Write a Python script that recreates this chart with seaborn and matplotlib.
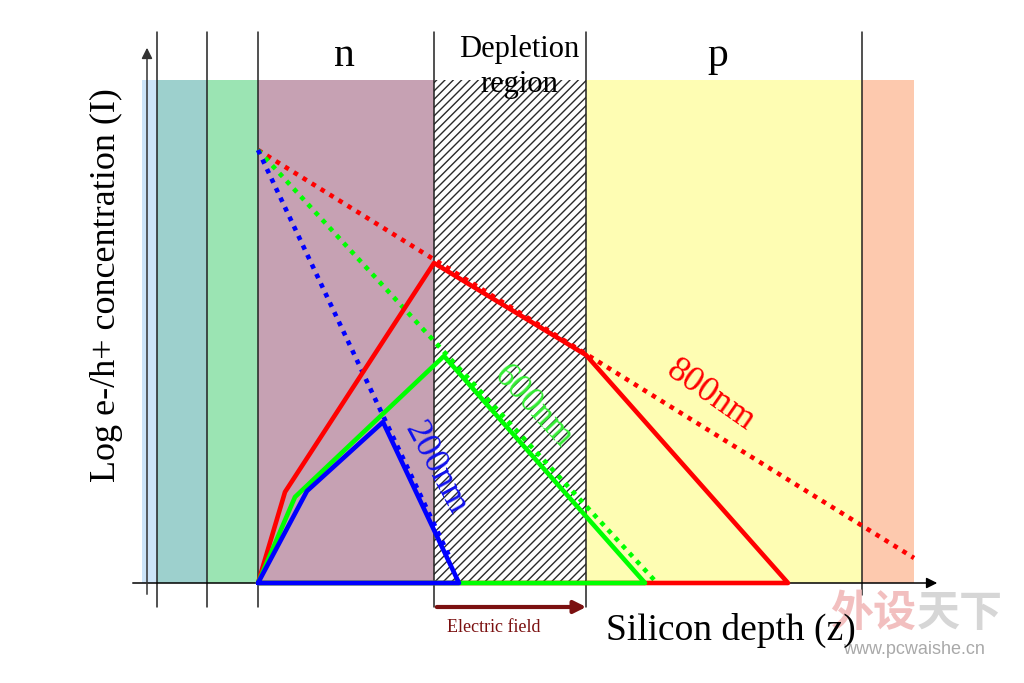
import matplotlib
matplotlib.use("Agg")
import matplotlib.pyplot as plt
import seaborn as sns
import pandas as pd

# ---------------- data (depth units along x, log-concentration units along y) ----------------
layer_edges = [142, 157, 207, 258, 434, 586, 862, 914]
layer_names = ["cap", "oxide", "buffer", "n", "Depletion region", "p", "substrate"]
layer_top = 503
boundary_x = [157, 207, 258, 434, 586, 862]

wavelengths = ["800nm", "600nm", "200nm"]
# solid (collected) profiles
solid_x = {
    "800nm": [258, 285, 434, 586, 788, 258],
    "600nm": [258, 295, 444, 645, 258],
    "200nm": [258, 307, 383, 459, 258],
}
solid_y = {
    "800nm": [0, 91, 320, 228, 0, 0],
    "600nm": [0, 86, 227, 0, 0],
    "200nm": [0, 92, 161, 0, 0],
}
# dotted (generated, exponential absorption) profiles
dotted_x = {"800nm": [258, 914], "600nm": [258, 657], "200nm": [258, 450]}
dotted_y = {"800nm": [433, 25], "600nm": [433, 0], "200nm": [433, 25]}

region_labels = ["n", "Depletion", "region", "p"]
x_label = "Silicon depth (z)"
y_label = "Log e-/h+ concentration (I)"
field_label = "Electric field"

# ---------------- style ----------------
sns.set_theme(style="white")
plt.rcParams["font.family"] = ["Liberation Serif", "DejaVu Serif"]
plt.rcParams["text.color"] = "black"
plt.rcParams["hatch.linewidth"] = 1.0

layer_colors = ["#cce4f8", "#9dd0cd", "#9be4b3", "#c6a1b3", "#ffffff", "#fefdb3", "#fdc9ae"]
line_colors = {"800nm": "#ff0000", "600nm": "#00ff00", "200nm": "#0000ff"}
label_colors = {"800nm": "#ff0000", "600nm": "#33ee33", "200nm": "#1111ee"}

fig = plt.figure(figsize=(10.24, 6.83), dpi=100)
ax = fig.add_axes([0, 0, 1, 1])

# layers
for i, name in enumerate(layer_names):
    x0, x1 = layer_edges[i], layer_edges[i + 1]
    if name == "Depletion region":
        ax.fill_between([x0, x1], 0, layer_top, facecolor="white", edgecolor="#2a2a2a",
                        hatch="////", linewidth=0, zorder=1)
    else:
        ax.fill_between([x0, x1], 0, layer_top, color=layer_colors[i], linewidth=0, zorder=1)

# boundaries
for bx in boundary_x:
    bottom = -12 if bx == 862 else -24
    ax.plot([bx, bx], [551, bottom], color="#222222", lw=1.1, zorder=2)

# axes arrows
ax.annotate("", xy=(940, 0), xytext=(130, 0),
            arrowprops=dict(arrowstyle="-|>", color="black", lw=1.1, mutation_scale=16), zorder=2)
ax.annotate("", xy=(147, 538), xytext=(147, -14),
            arrowprops=dict(arrowstyle="-|>", color="#333333", lw=1.1, mutation_scale=16), zorder=2)

# dotted profiles
for w in wavelengths:
    df = pd.DataFrame({"x": dotted_x[w], "y": dotted_y[w]})
    sns.lineplot(data=df, x="x", y="y", sort=False, estimator=None, ax=ax,
                 color=line_colors[w], linewidth=3.3, linestyle=(0, (1, 1.3)), zorder=3)

# solid profiles
for w in wavelengths:
    df = pd.DataFrame({"x": solid_x[w], "y": solid_y[w]})
    sns.lineplot(data=df, x="x", y="y", sort=False, estimator=None, ax=ax,
                 color=line_colors[w], linewidth=3.3, zorder=4)
ax.set_xlim(0, 1024)
ax.set_ylim(-100, 583)
ax.axis("off")

# electric field arrow
ax.annotate("", xy=(589, -24), xytext=(434, -24),
            arrowprops=dict(arrowstyle="-|>", color="#7b1010", lw=3, mutation_scale=18), zorder=5)
ax.text(494, -45, field_label, color="#7b1010", fontsize=13, ha="center", va="center", zorder=5)

# region labels
ax.text(344, 517, region_labels[0], fontsize=30, ha="center", va="baseline", zorder=5)
ax.text(519, 526, region_labels[1], fontsize=22, ha="center", va="baseline", zorder=5)
ax.text(519, 491, region_labels[2], fontsize=22, ha="center", va="baseline", zorder=5)
ax.text(718, 517, region_labels[3], fontsize=30, ha="center", va="baseline", zorder=5)

# wavelength labels
ax.text(435, 115, "200nm", color=label_colors["200nm"], fontsize=26, rotation=-62,
        ha="center", va="center", rotation_mode="anchor", zorder=5)
ax.text(533, 176, "600nm", color=label_colors["600nm"], fontsize=26, rotation=-47,
        ha="center", va="center", rotation_mode="anchor", zorder=5)
ax.text(711, 187, "800nm", color=label_colors["800nm"], fontsize=26, rotation=-35,
        ha="center", va="center", rotation_mode="anchor", zorder=5)

# watermark
ax.text(873, -30, "外设", fontsize=31, fontweight="black", color="#f2bfbf",
        family=["Noto Sans CJK SC", "DejaVu Sans"], ha="center", va="center", zorder=4.5)
ax.text(960, -30, "天下", fontsize=31, fontweight="black", color="#d6d6d6",
        family=["Noto Sans CJK SC", "DejaVu Sans"], ha="center", va="center", zorder=4.5)
ax.text(914, -67, "www.pcwaishe.cn", fontsize=13, color="#a9a9a9",
        family=["Liberation Sans", "DejaVu Sans"], ha="center", va="center", zorder=4.5)

# axis labels
ax.text(731, -57, x_label, fontsize=27, ha="center", va="baseline", zorder=6)
ax.text(106, 298, y_label, fontsize=26, rotation=90, ha="center", va="center", zorder=6)

fig.savefig("out.png", dpi=100)
